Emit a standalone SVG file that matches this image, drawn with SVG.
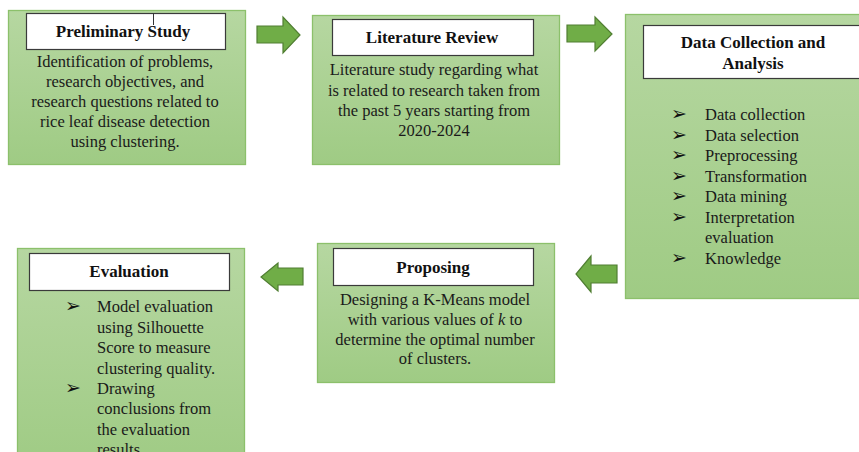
<svg xmlns="http://www.w3.org/2000/svg" width="859" height="452" viewBox="0 0 859 452">
<defs>
<linearGradient id="g" x1="0" y1="0" x2="0" y2="1">
<stop offset="0" stop-color="#b6d7a1"/>
<stop offset="1" stop-color="#9fcb84"/>
</linearGradient>
<style>
.box{fill:url(#g);stroke:#8cc06b;stroke-width:1.3}
.hdr{fill:#fff;stroke:#3a3a3a;stroke-width:1.2}
text{font-family:'Liberation Serif','Times New Roman',serif}
.h{font-weight:bold;font-size:17px;fill:#111;text-anchor:middle}
.t{font-size:16.5px;fill:#1a1a1a}
.c{text-anchor:middle}
.b{font-size:19px;font-family:'DejaVu Sans',sans-serif;fill:#111}
.arr{fill:#70ad47;stroke:#507e32;stroke-width:1.2;stroke-linejoin:miter}
</style>
</defs>
<rect width="859" height="452" fill="#fff"/>
<g id="connectors">
<polygon class="arr" points="257,26 283,26 283,17 300,35 283,53 283,43 257,43"/>
<polygon class="arr" points="567,25 595,25 595,17 612,34 595,51 595,42 567,42"/>
<polygon class="arr" points="617,265 591,265 591,256 576,274 591,292 591,283 617,283"/>
<polygon class="arr" points="303,268 278,268 278,263 261,277 278,291 278,285 303,285"/>
</g>
<g id="preliminary">
<rect class="box" x="8.5" y="10.5" width="237" height="154"/>
<rect class="hdr" x="26.5" y="13.5" width="199" height="36"/>
<text class="h" x="123" y="37">Preliminary Study</text>
<line x1="153.5" y1="13" x2="153.5" y2="25" stroke="#333" stroke-width="1"/>
<text class="t c" x="125" y="67">Identification of problems,</text>
<text class="t c" x="125" y="87">research objectives, and</text>
<text class="t c" x="125" y="107">research questions related to</text>
<text class="t c" x="125" y="127">rice leaf disease detection</text>
<text class="t c" x="125" y="147">using clustering.</text>
</g>
<g id="literature">
<rect class="box" x="312.5" y="15.5" width="247" height="149"/>
<rect class="hdr" x="332.5" y="19.5" width="201" height="36"/>
<text class="h" x="432" y="43">Literature Review</text>
<text class="t c" x="434" y="75">Literature study regarding what</text>
<text class="t c" x="434" y="96">is related to research taken from</text>
<text class="t c" x="434" y="116">the past 5 years starting from</text>
<text class="t c" x="434" y="136">2020-2024</text>
</g>
<g id="data">
<rect class="box" x="625.5" y="14.5" width="240" height="284"/>
<rect class="hdr" x="643.5" y="25.5" width="220" height="53"/>
<text class="h" x="753" y="48">Data Collection and</text>
<text class="h" x="753" y="69">Analysis</text>
<g class="t">
<text class="b" x="671" y="120">➢</text><text x="705" y="120">Data collection</text>
<text class="b" x="671" y="141">➢</text><text x="705" y="141">Data selection</text>
<text class="b" x="671" y="161">➢</text><text x="705" y="161">Preprocessing</text>
<text class="b" x="671" y="182">➢</text><text x="705" y="182">Transformation</text>
<text class="b" x="671" y="202">➢</text><text x="705" y="202">Data mining</text>
<text class="b" x="671" y="223">➢</text><text x="705" y="223">Interpretation</text>
<text x="705" y="243">evaluation</text>
<text class="b" x="671" y="264">➢</text><text x="705" y="264">Knowledge</text>
</g>
</g>
<g id="proposing">
<rect class="box" x="317.5" y="243.5" width="237" height="139"/>
<rect class="hdr" x="333.5" y="248.5" width="200" height="37"/>
<text class="h" x="433" y="273">Proposing</text>
<text class="t c" x="435" y="305">Designing a K-Means model</text>
<text class="t c" x="435" y="325">with various values of <tspan font-style="italic">k</tspan> to</text>
<text class="t c" x="435" y="345">determine the optimal number</text>
<text class="t c" x="435" y="364">of clusters.</text>
</g>
<g id="evaluation">
<rect class="box" x="17.5" y="248.5" width="227" height="220"/>
<rect class="hdr" x="29.5" y="253.5" width="200" height="37"/>
<text class="h" x="129" y="277">Evaluation</text>
<g class="t">
<text class="b" x="65" y="312">➢</text><text x="97" y="312">Model evaluation</text>
<text x="97" y="333">using Silhouette</text>
<text x="97" y="353">Score to measure</text>
<text x="97" y="374">clustering quality.</text>
<text class="b" x="65" y="394">➢</text><text x="97" y="394">Drawing</text>
<text x="97" y="414">conclusions from</text>
<text x="97" y="435">the evaluation</text>
<text x="97" y="455">results.</text>
</g>
</g>
</svg>
